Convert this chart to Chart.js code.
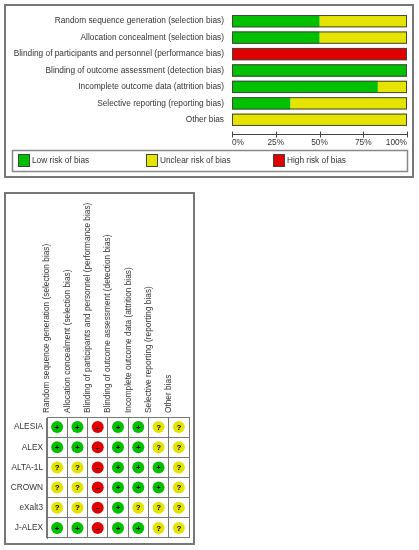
<!DOCTYPE html>
<html lang="en">
<head>
<meta charset="UTF-8">
<title>Risk of bias</title>
<script src="https://cdn.jsdelivr.net/npm/chart.js"></script>
<style>
  body { margin: 0; background: #fff; }
  canvas { position: absolute; left: 0; }
  #summary { top: 0; }
  #traffic { top: 185px; }
</style>
</head>
<body>
<canvas id="summary" width="419" height="185"></canvas>
<canvas id="traffic" width="419" height="365"></canvas>

<script>
// risk of bias domains (rows of the top graph, columns of the bottom table)
const domains = [
  'Random sequence generation (selection bias)',
  'Allocation concealment (selection bias)',
  'Blinding of participants and personnel (performance bias)',
  'Blinding of outcome assessment (detection bias)',
  'Incomplete outcome data (attrition bias)',
  'Selective reporting (reporting bias)',
  'Other bias'
];

// percentage of studies per judgement, per domain
const lowRisk     = [50, 50, 0, 100, 83.3, 33.3, 0];
const unclearRisk = [50, 50, 0, 0, 16.7, 66.7, 100];
const highRisk    = [0, 0, 100, 0, 0, 0, 0];
const percentTicks = [0, 25, 50, 75, 100];

// judgements per study, one entry per domain
const studies = ['ALESIA', 'ALEX', 'ALTA-1L', 'CROWN', 'eXalt3', 'J-ALEX'];
const alesia = ['+', '+', '-', '+', '+', '?', '?'];
const alex   = ['+', '+', '-', '+', '+', '?', '?'];
const alta1l = ['?', '?', '-', '+', '+', '+', '?'];
const crown  = ['?', '?', '-', '+', '+', '+', '?'];
const exalt3 = ['?', '?', '-', '+', '?', '?', '?'];
const jalex  = ['+', '+', '-', '+', '+', '?', '?'];
const judgements = [alesia, alex, alta1l, crown, exalt3, jalex];

const GREEN = '#00c000', YELLOW = '#e4e400', RED = '#e00000';
const judgeColor = { '+': GREEN, '?': YELLOW, '-': RED };
const FONT = "'Liberation Sans', Arial, sans-serif";

Chart.defaults.font.family = FONT;
Chart.defaults.font.size = 8.3;
Chart.defaults.color = '#333';

// --- top graph: stacked horizontal bars ---
const summaryDeco = {
  id: 'summaryDeco',
  afterDatasetsDraw(chart) {
    const ctx = chart.ctx, x = chart.scales.x;
    // outline around each full bar
    ctx.save();
    ctx.strokeStyle = '#444';
    ctx.lineWidth = 1;
    chart.getDatasetMeta(0).data.forEach(bar => {
      const x0 = x.getPixelForValue(0), x1 = x.getPixelForValue(100);
      ctx.strokeRect(x0 + 0.5, bar.y - bar.height / 2 + 0.5, x1 - x0 - 1, bar.height - 1);
    });
    // axis line with ticks
    const ay = chart.chartArea.bottom + 6.5;
    ctx.beginPath();
    ctx.moveTo(x.getPixelForValue(0), ay);
    ctx.lineTo(x.getPixelForValue(100), ay);
    percentTicks.forEach(v => {
      const px = Math.round(x.getPixelForValue(v)) + 0.5;
      ctx.moveTo(px, ay - 3);
      ctx.lineTo(px, ay + 3);
    });
    ctx.stroke();
    ctx.restore();
  },
  afterDraw(chart) {
    const ctx = chart.ctx;
    ctx.save();
    // panel border
    ctx.strokeStyle = '#777';
    ctx.lineWidth = 2;
    ctx.strokeRect(5, 5, 408, 172);
    // legend box
    ctx.strokeStyle = '#888';
    ctx.lineWidth = 1.5;
    ctx.strokeRect(12.5, 150.5, 395, 21);
    const slots = [18, 146, 273];
    ctx.font = '8.3px ' + FONT;
    ctx.textBaseline = 'middle';
    chart.data.datasets.forEach((ds, i) => {
      ctx.fillStyle = ds.backgroundColor;
      ctx.fillRect(slots[i], 154.5, 11, 12);
      ctx.strokeStyle = '#444';
      ctx.lineWidth = 1;
      ctx.strokeRect(slots[i] + 0.5, 154.5, 11, 12);
      ctx.fillStyle = '#333';
      ctx.fillText(ds.label, slots[i] + 14, 161);
    });
    ctx.restore();
  }
};

new Chart(document.getElementById('summary'), {
  type: 'bar',
  data: {
    labels: domains,
    datasets: [
      { label: 'Low risk of bias', data: lowRisk, backgroundColor: GREEN },
      { label: 'Unclear risk of bias', data: unclearRisk, backgroundColor: YELLOW },
      { label: 'High risk of bias', data: highRisk, backgroundColor: RED }
    ]
  },
  options: {
    indexAxis: 'y',
    responsive: false,
    animation: false,
    events: [],
    categoryPercentage: 1,
    barPercentage: 0.75,
    layout: { padding: { top: 9.5, right: 12, left: 0, bottom: 0 } },
    plugins: { legend: { display: false }, tooltip: { enabled: false } },
    scales: {
      x: {
        stacked: true, min: 0, max: 100,
        grid: { display: false, drawTicks: false },
        border: { display: false },
        ticks: { stepSize: 25, align: 'inner', padding: 10, callback: v => v + '%' },
        afterFit: s => { s.height = 57; }
      },
      y: {
        stacked: true,
        grid: { display: false, drawTicks: false },
        border: { display: false },
        ticks: { padding: 8, autoSkip: false },
        afterFit: s => { s.width = 232; }
      }
    }
  },
  plugins: [summaryDeco]
});

// --- bottom table: traffic light per study and domain ---
const cells = [];
judgements.forEach((row, r) => {
  row.forEach((j, c) => cells.push({ x: domains[c], y: studies[r], j: j }));
});

const trafficDeco = {
  id: 'trafficDeco',
  afterDatasetsDraw(chart) {
    const ctx = chart.ctx;
    ctx.save();
    ctx.font = 'bold 8px ' + FONT;
    ctx.textAlign = 'center';
    ctx.textBaseline = 'middle';
    ctx.fillStyle = '#000';
    chart.getDatasetMeta(0).data.forEach((pt, i) => {
      const j = cells[i].j;
      ctx.fillText(j === '-' ? '–' : j, pt.x, pt.y + 0.5);
    });
    ctx.restore();
  },
  afterDraw(chart) {
    const ctx = chart.ctx;
    ctx.save();
    ctx.strokeStyle = '#777';
    ctx.lineWidth = 2;
    ctx.strokeRect(5, 8, 189, 351);
    ctx.restore();
  }
};

new Chart(document.getElementById('traffic'), {
  type: 'scatter',
  data: {
    datasets: [{
      data: cells,
      pointRadius: 6,
      pointHoverRadius: 6,
      pointBorderWidth: 0,
      pointBackgroundColor: ctx => judgeColor[ctx.raw.j]
    }]
  },
  options: {
    responsive: false,
    animation: false,
    events: [],
    layout: { padding: { top: 0, right: 230, left: 0, bottom: 12 } },
    plugins: { legend: { display: false }, tooltip: { enabled: false } },
    scales: {
      x: {
        type: 'category', labels: domains, position: 'top', offset: true,
        grid: { offset: true, color: '#777', drawTicks: false },
        border: { color: '#777' },
        ticks: { minRotation: 90, maxRotation: 90, autoSkip: false, padding: 4 },
        afterFit: s => { s.height = 232; }
      },
      y: {
        type: 'category', labels: studies, offset: true,
        grid: { offset: true, color: '#777', drawTicks: false },
        border: { color: '#777' },
        ticks: { padding: 4, autoSkip: false },
        afterFit: s => { s.width = 47; }
      }
    }
  },
  plugins: [trafficDeco]
});
</script>
</body>
</html>
